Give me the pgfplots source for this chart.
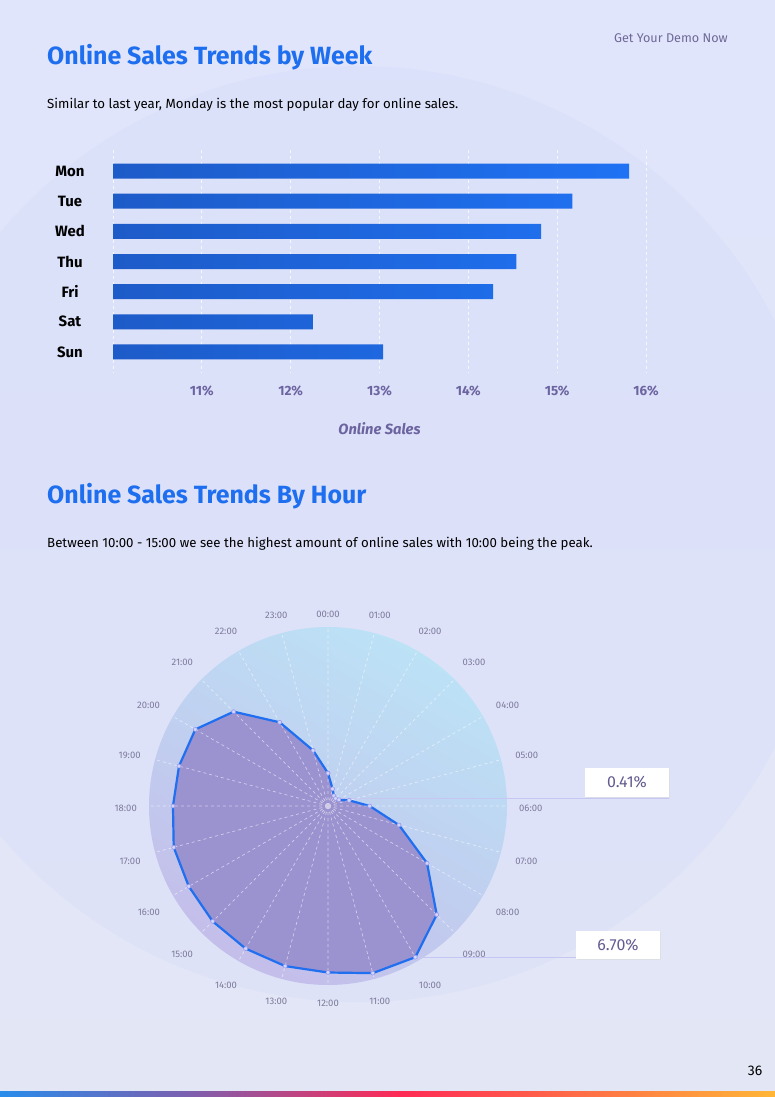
\documentclass[border=0pt]{standalone}
\usepackage{fontspec}
\setmainfont{Fira Sans}
\usepackage{pgfplots}
\pgfplotsset{compat=1.18}
\usepgfplotslibrary{polar}

\definecolor{pagetop}{RGB}{225,229,252}
\definecolor{pagebot}{RGB}{226,230,245}
\definecolor{bigcirc}{RGB}{212,219,250}
\definecolor{titleblue}{RGB}{30,110,240}
\definecolor{demogray}{RGB}{110,105,150}
\definecolor{tickpurple}{RGB}{108,100,160}
\definecolor{barleft}{RGB}{29,91,200}
\definecolor{barright}{RGB}{31,114,244}
\definecolor{sky}{RGB}{188,226,246}
\definecolor{lav}{RGB}{196,190,234}
\definecolor{polyfill}{RGB}{155,146,208}
\definecolor{polyline}{RGB}{31,111,240}
\definecolor{hourgray}{RGB}{125,122,155}
\definecolor{calltext}{RGB}{98,92,145}
\definecolor{callline}{RGB}{198,198,242}
\definecolor{sblue}{RGB}{40,140,235}
\definecolor{spurple}{RGB}{125,95,175}
\definecolor{sred}{RGB}{255,42,85}
\definecolor{sorange}{RGB}{255,182,55}

\begin{document}
\begin{tikzpicture}
\path[use as bounding box] (0bp,0bp) rectangle (775bp,-1097bp);
% page background
\shade[top color=pagetop, bottom color=pagebot] (0bp,0bp) rectangle (775bp,-1097bp);
\begin{scope}
\clip (0bp,0bp) rectangle (775bp,-1097bp);
\fill[bigcirc, opacity=0.35] (358bp,-534bp) circle (468bp);
\end{scope}

% header texts
\node[anchor=base east, text=demogray, font=\fontsize{12.7}{15}\selectfont, inner sep=0] at (728bp,-42bp) {Get Your Demo Now};
\node[anchor=base west, text=titleblue, font=\fontsize{25}{30}\bfseries, inner sep=0] at (47bp,-64bp) {Online Sales Trends by Week};
\node[anchor=base west, text=black, font=\fontsize{13.3}{16}\selectfont, inner sep=0] at (47bp,-108bp) {Similar to last year, Monday is the most popular day for online sales.};

\node[anchor=base west, text=titleblue, font=\fontsize{25}{30}\bfseries, inner sep=0] at (47bp,-503bp) {Online Sales Trends By Hour};
\node[anchor=base west, text=black, font=\fontsize{13.3}{16}\selectfont, inner sep=0] at (47bp,-547bp) {Between 10:00 - 15:00 we see the highest amount of online sales with 10:00 being the peak.};

% bar chart
\begin{axis}[
  at={(113bp,-150bp)}, anchor=north west,
  scale only axis, width=533bp, height=223bp,
  xmin=10, xmax=16,
  x coord trafo/.code={\pgfmathparse{#1-10}},
  x coord inv trafo/.code={\pgfmathparse{#1+10}},
  ymin=-0.7, ymax=6.7, y dir=reverse,
  xtick={10,11,12,13,14,15,16},
  xticklabels={,11\%,12\%,13\%,14\%,15\%,16\%},
  ytick={0,1,2,3,4,5,6},
  yticklabels={Mon,Tue,Wed,Thu,Fri,Sat,Sun},
  axis line style={draw=none},
  major tick length=0pt,
  xmajorgrids,
  major grid style={white, opacity=0.75, line width=0.7bp, dash pattern=on 3bp off 3bp},
  /pgf/number format/assume math mode=true,
  xticklabel style={font=\fontsize{13.5}{16}\bfseries, text=tickpurple, anchor=center, yshift=-18bp},
  yticklabel style={font=\fontsize{15}{18}\bfseries, text=black, anchor=center, xshift=-43bp},
  xlabel={Online Sales},
  xlabel style={font=\fontsize{14.8}{17}\bfseries\itshape, text=tickpurple, at={(axis description cs:0.5,0)}, anchor=center, yshift=-56bp},
]
\addplot[xbar, bar width=15bp, draw=none, left color=barleft, right color=barright]
  coordinates {(15.81,0) (15.17,1) (14.82,2) (14.54,3) (14.28,4) (12.25,5) (13.04,6)};
\end{axis}

% radar disk
\shade[top color=sky, bottom color=lav, shading angle=-30] (328bp,-806bp) circle (179bp);

\begin{polaraxis}[
  at={(328bp,-806bp)}, anchor=center,
  scale only axis, width=358bp, height=358bp,
  xmin=0, xmax=360, ymin=0, ymax=6.87,
  xtick={0,15,30,45,60,75,90,105,120,135,150,165,180,195,210,225,240,255,270,285,300,315,330,345},
  xticklabels={06:00,05:00,04:00,03:00,02:00,01:00,00:00,23:00,22:00,21:00,20:00,19:00,18:00,17:00,16:00,15:00,14:00,13:00,12:00,11:00,10:00,09:00,08:00,07:00},
  ytick=\empty,
  axis line style={draw=none},
  major tick length=0pt,
  xmajorgrids,
  major grid style={white, opacity=0.55, line width=0.7bp, dash pattern=on 3bp off 3bp},
  axis on top,
  clip=false,
  xticklabel style={font=\fontsize{9.5}{11}\selectfont, text=hourgray, inner sep=12bp, yshift=-2.5bp},
]
\draw[callline, line width=1.3bp] (axis cs:45,0.41) -- ++(333bp,0);
\draw[callline, line width=1.3bp] (axis cs:-60,6.70) -- ++(245bp,0);
\addplot[polyline, line width=2.2bp, fill=polyfill, line join=round,
  mark=*, mark size=2bp,
  mark options={fill={rgb,255:red,210;green,214;blue,255}, draw={rgb,255:red,150;green,152;blue,235}, line width=0.6bp}]
  coordinates {(90,1.26) (75,0.68) (60,0.45) (45,0.41) (30,0.48) (15,0.84) (0,1.60)
  (-15,2.82) (-30,4.39) (-45,5.90) (-60,6.70) (-75,6.64) (-90,6.39) (-105,6.36)
  (-120,6.32) (-135,6.26) (-150,6.17) (-165,6.13) (-180,5.95) (-195,5.92)
  (-210,5.88) (-225,5.12) (-240,3.71) (-255,2.21) (90,1.26)};
\end{polaraxis}

% callout boxes
\fill[black!15, opacity=0.5] (586bp,-769bp) rectangle (670bp,-798bp);
\fill[white] (585bp,-768bp) rectangle (669bp,-797bp);
\node[text=calltext, font=\fontsize{16}{18}\selectfont] at (627bp,-782.5bp) {0.41\%};
\fill[black!15, opacity=0.5] (577bp,-932bp) rectangle (661bp,-960bp);
\fill[white] (576bp,-931bp) rectangle (660bp,-959bp);
\node[text=calltext, font=\fontsize{16}{18}\selectfont] at (618bp,-945bp) {6.70\%};

% page number
\node[anchor=base, text=black, font=\fontsize{14}{16}\selectfont, inner sep=0] at (755bp,-1075bp) {36};

% bottom stripe
\shade[left color=sblue, right color=spurple] (0bp,-1091bp) rectangle (190bp,-1097bp);
\shade[left color=spurple, right color=sred] (190bp,-1091bp) rectangle (400bp,-1097bp);
\shade[left color=sred, right color=sorange] (400bp,-1091bp) rectangle (775bp,-1097bp);
\end{tikzpicture}
\end{document}
